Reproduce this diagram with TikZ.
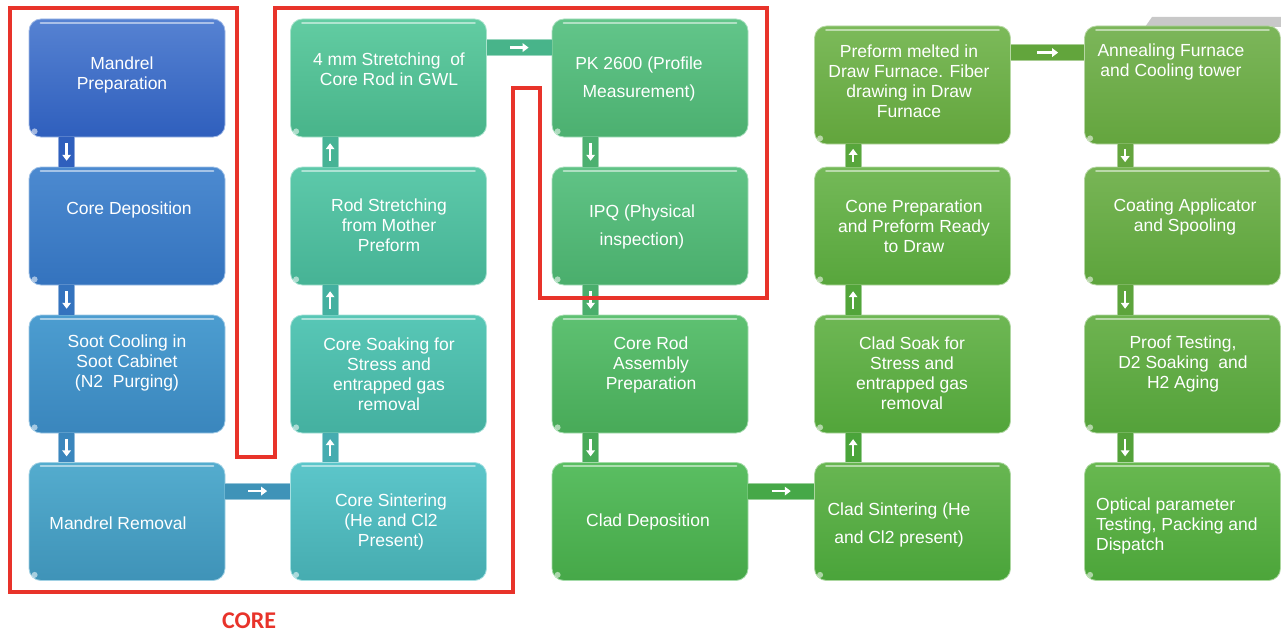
\documentclass[tikz,border=0pt]{standalone}
\usepackage{fontspec}
\setmainfont{Liberation Sans}
\newfontfamily\tagfont{Carlito}
\usetikzlibrary{arrows.meta,calc,shadings}

% box colours (top, bottom)
\definecolor{aT}{HTML}{5682D2}\definecolor{aB}{HTML}{2F5FBD}
\definecolor{bT}{HTML}{4C8AD0}\definecolor{bB}{HTML}{3473BE}
\definecolor{cT}{HTML}{4C9DD0}\definecolor{cB}{HTML}{3A86BD}
\definecolor{dT}{HTML}{54ACCE}\definecolor{dB}{HTML}{3F93B8}
\definecolor{eT}{HTML}{62CCA2}\definecolor{eB}{HTML}{48B48A}
\definecolor{fT}{HTML}{5DC9AA}\definecolor{fB}{HTML}{46B395}
\definecolor{gT}{HTML}{58C7B6}\definecolor{gB}{HTML}{44B0A0}
\definecolor{hT}{HTML}{5CC6CA}\definecolor{hB}{HTML}{46ACB0}
\definecolor{iT}{HTML}{62C58A}\definecolor{iB}{HTML}{4CB070}
\definecolor{jT}{HTML}{60C386}\definecolor{jB}{HTML}{4AAE6C}
\definecolor{kT}{HTML}{5EC172}\definecolor{kB}{HTML}{48AA58}
\definecolor{lT}{HTML}{5ABE62}\definecolor{lB}{HTML}{46A848}
\definecolor{mT}{HTML}{7CBA5A}\definecolor{mB}{HTML}{62A53C}
\definecolor{nT}{HTML}{74B958}\definecolor{nB}{HTML}{58A63C}
\definecolor{oT}{HTML}{6EB754}\definecolor{oB}{HTML}{52A53A}
\definecolor{pT}{HTML}{68B652}\definecolor{pB}{HTML}{4AA43A}
\definecolor{qT}{HTML}{7CB65A}\definecolor{qB}{HTML}{64A53E}
\definecolor{rT}{HTML}{78B556}\definecolor{rB}{HTML}{5DA43C}
\definecolor{sT}{HTML}{6EB350}\definecolor{sB}{HTML}{54A23A}
\definecolor{uT}{HTML}{68B850}\definecolor{uB}{HTML}{4CA53A}
\definecolor{coreRed}{HTML}{E8332A}
\definecolor{shadowGrey}{HTML}{C8C8C8}

% one process stage: name, centre x, centre y, top colour, bottom colour
\newcommand\stage[5]{%
  \node[stagebox, top color=#4, bottom color=#5, draw=#4!55!white] (#1) at (#2,#3) {};
  \draw[white, opacity=0.5, line width=2pt, line cap=round]
    ([xshift=12pt,yshift=-4pt]#1.north west) -- ([xshift=-12pt,yshift=-4pt]#1.north east);
  \fill[white, opacity=0.55] ([xshift=6pt,yshift=6pt]#1.south west) circle (3pt);
}
% connector bar between two named points with a white arrow in it
\newcommand\flowlink[4]{%
  \draw[linkbar=#3] (#1) -- (#2);
  \draw[flowarrow] ($(#1)!#4!(#2)$) -- ($(#2)!#4!(#1)$);
}

\begin{document}
\begin{tikzpicture}[x=1pt,y=-1pt,
  stagebox/.style={rectangle, rounded corners=12pt, inner sep=0pt,
    minimum width=196pt, minimum height=118pt, line width=0.8pt},
  stagetext/.style={text=white, align=center, inner sep=0pt, yshift=-1.5pt,
    font=\fontsize{17.5}{20}\selectfont},
  linkbar/.style={draw=#1!55!white, line width=1pt, double=#1, double distance=15pt},
  flowarrow/.style={white, line width=2.4pt, -{Triangle[width=8.5pt,length=6pt]}}]

\useasboundingbox (0,0) rectangle (1281,634);
\fill[white] (0,0) rectangle (1281,634);

% grey sheet peeking out behind the last column
\fill[shadowGrey] (1145,27) -- (1152,17) -- (1281,17) -- (1281,27) -- cycle;

% column 1
\stage{b1}{127}{78}{aT}{aB}
\stage{b2}{127}{226}{bT}{bB}
\stage{b3}{127}{374}{cT}{cB}
\stage{b4}{127}{521.5}{dT}{dB}
% column 2
\stage{b5}{388.5}{78}{eT}{eB}
\stage{b6}{388.5}{226}{fT}{fB}
\stage{b7}{388.5}{374}{gT}{gB}
\stage{b8}{388.5}{521.5}{hT}{hB}
% column 3
\stage{b9}{650}{78}{iT}{iB}
\stage{b10}{650}{226}{jT}{jB}
\stage{b11}{650}{374}{kT}{kB}
\stage{b12}{650}{521.5}{lT}{lB}
% column 4
\stage{b13}{912.5}{85}{mT}{mB}
\stage{b14}{912.5}{226}{nT}{nB}
\stage{b15}{912.5}{374}{oT}{oB}
\stage{b16}{912.5}{521.5}{pT}{pB}
% column 5
\stage{b17}{1182.5}{85}{qT}{qB}
\stage{b18}{1182.5}{226}{rT}{rB}
\stage{b19}{1182.5}{374}{sT}{sB}
\stage{b20}{1182.5}{521.5}{uT}{uB}

% stage labels
\node[stagetext] (t1) at (122,73) {Mandrel\\Preparation};
\node[stagetext] (t2) at (129,208) {Core Deposition};
\node[stagetext] (t3) at (127,361) {Soot Cooling in\\Soot Cabinet\\(N2\ \ Purging)};
\node[stagetext] (t4) at (118,522) {Mandrel Removal};
\node[stagetext] (t5) at (389,68) {4 mm Stretching\ \ of\\Core Rod in GWL};
\node[stagetext] (t6) at (389,224) {Rod Stretching\\from Mother\\Preform};
\node[stagetext] (t7) at (389,373) {Core Soaking for\\Stress and\\entrapped gas\\removal};
\node[stagetext] (t8) at (391,520) {Core Sintering\\(He and Cl2\\Present)};
\node[stagetext] (t9) at (639,77) {PK 2600 (Profile\\[8pt]Measurement)};
\node[stagetext] (t10) at (642,225) {IPQ (Physical\\[8pt]inspection)};
\node[stagetext] (t11) at (651,363) {Core Rod\\Assembly\\Preparation};
\node[stagetext] (t12) at (648,520) {Clad Deposition};
\node[stagetext] (t13) at (909,80) {Preform melted in\\Draw Furnace. Fiber\\drawing in Draw\\Furnace};
\node[stagetext] (t14) at (914,225) {Cone Preparation\\and Preform Ready\\to Draw};
\node[stagetext] (t15) at (912,372) {Clad Soak for\\Stress and\\entrapped gas\\removal};
\node[stagetext] (t16) at (899,523) {Clad Sintering (He\\[8pt]and Cl2 present)};
\node[stagetext] (t17) at (1171,60) {Annealing Furnace\\and Cooling tower};
\node[stagetext] (t18) at (1185,215) {Coating Applicator\\and Spooling};
\node[stagetext] (t19) at (1183,362) {Proof Testing,\\D2 Soaking\ \ and\\H2 Aging};
\node[stagetext, align=left, anchor=west] (t20) at (1096,524) {Optical parameter\\Testing, Packing and\\Dispatch};

% connector end points
\coordinate (c1a) at ([xshift=38pt]b1.south west);  \coordinate (c1b) at ([xshift=38pt]b2.north west);
\coordinate (c2a) at ([xshift=38pt]b2.south west);  \coordinate (c2b) at ([xshift=38pt]b3.north west);
\coordinate (c3a) at ([xshift=38pt]b3.south west);  \coordinate (c3b) at ([xshift=38pt]b4.north west);
\coordinate (c4a) at ([yshift=-29pt]b4.north east); \coordinate (c4b) at ([yshift=-29pt]b8.north west);
\coordinate (c5a) at ([xshift=40pt]b8.north west);  \coordinate (c5b) at ([xshift=40pt]b7.south west);
\coordinate (c6a) at ([xshift=40pt]b7.north west);  \coordinate (c6b) at ([xshift=40pt]b6.south west);
\coordinate (c7a) at ([xshift=40pt]b6.north west);  \coordinate (c7b) at ([xshift=40pt]b5.south west);
\coordinate (c8a) at ([yshift=-29pt]b5.north east); \coordinate (c8b) at ([yshift=-29pt]b9.north west);
\coordinate (c9a) at ([xshift=39pt]b9.south west);  \coordinate (c9b) at ([xshift=39pt]b10.north west);
\coordinate (c10a) at ([xshift=39pt]b10.south west); \coordinate (c10b) at ([xshift=39pt]b11.north west);
\coordinate (c11a) at ([xshift=39pt]b11.south west); \coordinate (c11b) at ([xshift=39pt]b12.north west);
\coordinate (c12a) at ([yshift=-29pt]b12.north east); \coordinate (c12b) at ([yshift=-29pt]b16.north west);
\coordinate (c13a) at ([xshift=39pt]b16.north west); \coordinate (c13b) at ([xshift=39pt]b15.south west);
\coordinate (c14a) at ([xshift=39pt]b15.north west); \coordinate (c14b) at ([xshift=39pt]b14.south west);
\coordinate (c15a) at ([xshift=39pt]b14.north west); \coordinate (c15b) at ([xshift=39pt]b13.south west);
\coordinate (c16a) at ([yshift=-27pt]b13.north east); \coordinate (c16b) at ([yshift=-27pt]b17.north west);
\coordinate (c17a) at ([xshift=41pt]b17.south west); \coordinate (c17b) at ([xshift=41pt]b18.north west);
\coordinate (c18a) at ([xshift=41pt]b18.south west); \coordinate (c18b) at ([xshift=41pt]b19.north west);
\coordinate (c19a) at ([xshift=41pt]b19.south west); \coordinate (c19b) at ([xshift=41pt]b20.north west);

% connectors
\flowlink{c1a}{c1b}{aB}{0.2}
\flowlink{c2a}{c2b}{bB}{0.2}
\flowlink{c3a}{c3b}{cB}{0.2}
\flowlink{c4a}{c4b}{dB}{0.355}
\flowlink{c5a}{c5b}{hB}{0.2}
\flowlink{c6a}{c6b}{gB}{0.2}
\flowlink{c7a}{c7b}{fB}{0.2}
\flowlink{c8a}{c8b}{eB}{0.355}
\flowlink{c9a}{c9b}{iB}{0.2}
\flowlink{c10a}{c10b}{jB}{0.2}
\flowlink{c11a}{c11b}{kB}{0.2}
\flowlink{c12a}{c12b}{lB}{0.355}
\flowlink{c13a}{c13b}{pB}{0.2}
\flowlink{c14a}{c14b}{oB}{0.2}
\flowlink{c15a}{c15b}{nB}{0.2}
\flowlink{c16a}{c16b}{mB}{0.355}
\flowlink{c17a}{c17b}{qB}{0.2}
\flowlink{c18a}{c18b}{rB}{0.2}
\flowlink{c19a}{c19b}{sB}{0.2}

% outline of the core stages
\draw[coreRed, line width=4pt, line join=miter]
  (10,8) -- (237,8) -- (237,457) -- (275,457) -- (275,8) -- (767,8) -- (767,298)
  -- (540,298) -- (540,88) -- (513,88) -- (513,592) -- (10,592) -- cycle;
\node[text=coreRed, font=\tagfont\bfseries\fontsize{24}{28}\selectfont, inner sep=0pt]
  (coretag) at (249,621) {CORE};
\end{tikzpicture}
\end{document}
